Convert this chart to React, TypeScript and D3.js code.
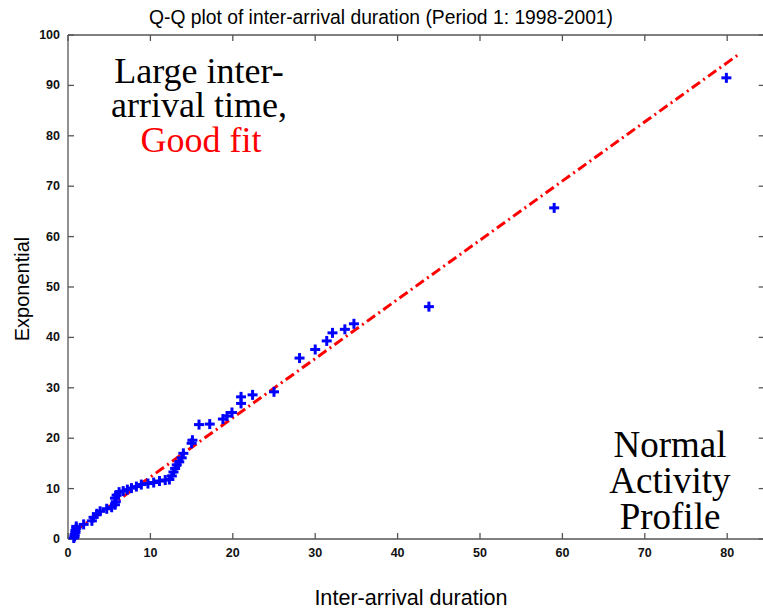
import React from "react";
import * as d3 from "d3";

// Quantile pairs: empirical inter-arrival duration vs exponential quantiles
const sampleQuantiles = [
  0.7, 0.8, 0.8, 0.9, 0.9, 1.0, 1.0, 1.9, 2.9, 3.1, 3.5, 3.9, 4.7, 5.3, 5.7, 5.8,
  5.7, 5.9, 6.2, 6.7, 7.2, 7.7, 8.3, 8.9, 9.7, 10.4, 11.1, 11.8, 12.3, 12.6, 12.8,
  13.0, 13.2, 13.5, 13.8, 14.0, 15.0, 15.1, 15.9, 17.2, 18.8, 19.3, 19.9, 21.0,
  21.0, 22.4, 25.0, 28.1, 30.0, 31.4, 32.1, 33.6, 34.7, 43.8, 59.0, 79.9,
];
const expQuantiles = [
  0.2, 0.5, 0.9, 1.3, 1.7, 2.1, 2.5, 2.9, 3.6, 4.3, 5.0, 5.5, 6.0, 6.3, 6.8, 7.4,
  8.1, 8.7, 9.3, 9.5, 9.8, 10.1, 10.4, 10.8, 11.0, 11.2, 11.5, 11.7, 11.8, 12.5,
  13.3, 14.0, 14.7, 15.3, 16.1, 17.0, 19.0, 19.6, 22.7, 22.8, 23.8, 24.4, 25.1,
  26.9, 28.2, 28.6, 29.2, 35.9, 37.6, 39.3, 40.9, 41.6, 42.7, 46.1, 65.7, 91.5,
];

// Reference line endpoints
const refLineX = [0.8, 81.6];
const refLineY = [1.5, 96.4];

const xTicks = [0, 10, 20, 30, 40, 50, 60, 70, 80];
const yTicks = [0, 10, 20, 30, 40, 50, 60, 70, 80, 90, 100];

const title = "Q-Q plot of inter-arrival duration (Period 1: 1998-2001)";
const xLabel = "Inter-arrival duration";
const yLabel = "Exponential";
const noteTop = ["Large inter-", "arrival time,"];
const noteTopRed = "Good fit";
const noteBottom = ["Normal", "Activity", "Profile"];

export default function App() {
  const W = 763;
  const H = 610;
  const left = 68;
  const top = 35;
  const bottom = 539;

  const x = d3.scaleLinear().domain([0, 80]).range([left, 727.2]);
  const y = d3.scaleLinear().domain([0, 100]).range([bottom, top]);
  const right = x(84.55);

  const tickLen = 6;
  const axisColor = "#555";
  const sans = "'Liberation Sans', Arial, Helvetica, sans-serif";
  const serif = "'Liberation Serif', 'Times New Roman', serif";

  const line = d3
    .line<number>()
    .x((_, i) => x(refLineX[i]))
    .y((_, i) => y(refLineY[i]));

  const ms = 5; // half size of plus marker

  return (
    <svg
      width={W}
      height={H}
      style={{ position: "absolute", left: 0, top: 0, background: "#fff" }}
    >
      <rect x={0} y={0} width={W} height={H} fill="#fff" />

      {/* axes box */}
      <g stroke={axisColor} strokeWidth={1.3} fill="none">
        <line x1={left} y1={top} x2={right} y2={top} />
        <line x1={left} y1={bottom} x2={right} y2={bottom} />
        <line x1={left} y1={top} x2={left} y2={bottom} />
        <line x1={right} y1={top} x2={right} y2={bottom} />
        {xTicks.map((t) => (
          <g key={"xt" + t}>
            <line x1={x(t)} y1={bottom} x2={x(t)} y2={bottom - tickLen} />
            <line x1={x(t)} y1={top} x2={x(t)} y2={top + tickLen} />
          </g>
        ))}
        {yTicks.map((t) => (
          <g key={"yt" + t}>
            <line x1={left} y1={y(t)} x2={left + tickLen} y2={y(t)} />
            <line x1={right} y1={y(t)} x2={right - tickLen} y2={y(t)} />
          </g>
        ))}
      </g>

      {/* tick labels */}
      <g fontFamily={sans} fontSize={12.5} fontWeight="bold" fill="#111">
        {xTicks.map((t) => (
          <text key={"xl" + t} x={x(t)} y={bottom + 18} textAnchor="middle">
            {t}
          </text>
        ))}
        {yTicks.map((t) => (
          <text
            key={"yl" + t}
            x={left - 8}
            y={y(t)}
            textAnchor="end"
            dominantBaseline="central"
          >
            {t}
          </text>
        ))}
      </g>

      {/* reference line */}
      <path
        d={line([0, 1]) || ""}
        stroke="#ff0000"
        strokeWidth={3}
        fill="none"
        strokeDasharray="10 4 2 4"
      />

      {/* quantile points */}
      <g stroke="#0000ff" strokeWidth={3}>
        {sampleQuantiles.map((sx, i) => {
          const cx = x(sx);
          const cy = y(expQuantiles[i]);
          return (
            <g key={"p" + i}>
              <line x1={cx - ms} y1={cy} x2={cx + ms} y2={cy} />
              <line x1={cx} y1={cy - ms} x2={cx} y2={cy + ms} />
            </g>
          );
        })}
      </g>

      {/* titles */}
      <text x={381} y={24} textAnchor="middle" fontFamily={sans} fontSize={19.3}>
        {title}
      </text>
      <text x={411} y={605} textAnchor="middle" fontFamily={sans} fontSize={21.6}>
        {xLabel}
      </text>
      <text
        transform="translate(29,289) rotate(-90)"
        textAnchor="middle"
        fontFamily={sans}
        fontSize={20}
      >
        {yLabel}
      </text>

      {/* annotations */}
      <text fontFamily={serif} fontSize={36} textAnchor="middle" fill="#000">
        {noteTop.map((s, i) => (
          <tspan key={"nt" + i} x={199} y={83 + i * 34}>
            {s}
          </tspan>
        ))}
        <tspan x={201} y={152} fill="#ff0000">
          {noteTopRed}
        </tspan>
      </text>
      <text fontFamily={serif} fontSize={37} textAnchor="middle" fill="#000">
        {noteBottom.map((s, i) => (
          <tspan key={"nb" + i} x={670} y={457 + i * 36}>
            {s}
          </tspan>
        ))}
      </text>
    </svg>
  );
}
